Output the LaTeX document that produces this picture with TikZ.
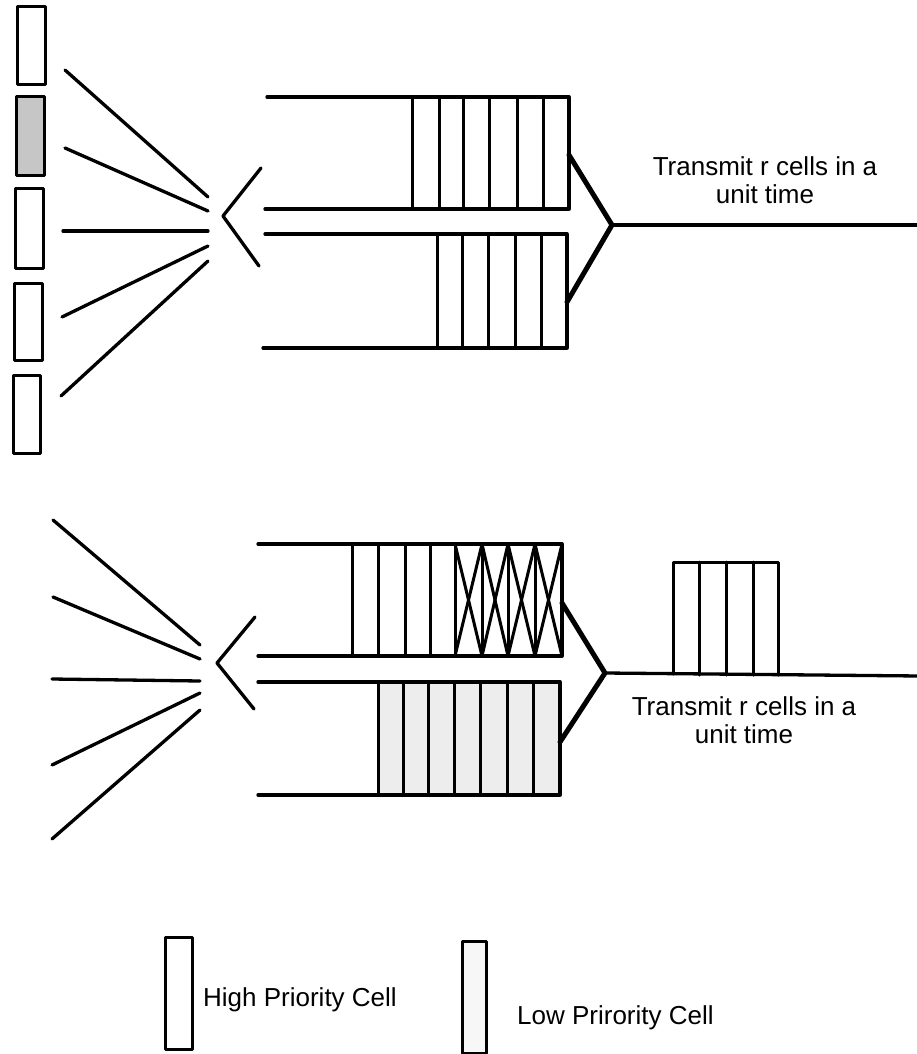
\documentclass[tikz,border=0pt]{standalone}
\usepackage{fontspec}
\setmainfont{Liberation Sans}
\begin{document}
\begin{tikzpicture}[x=1pt,y=-1pt, line cap=round, line join=round,
  ln/.style={line width=3.3pt},
  cellln/.style={line width=3pt},
  merge/.style={line width=5pt},
  lowfill/.style={fill=gray!14},
  lbl/.style={font=\fontsize{26}{27.5}\selectfont, align=center, inner sep=0pt}]
\useasboundingbox (0,0) rectangle (917,1054);
\fill[white] (0,0) rectangle (917,1054);

% ---------------- top: arriving cells ----------------
\draw[cellln] (17,7) rectangle (45,85) coordinate (c1);
\draw[cellln, fill=gray!45] (16,97) rectangle (44,175) coordinate (c2);
\draw[cellln] (15,188) rectangle (43,268) coordinate (c3);
\draw[cellln] (14,283) rectangle (42,360) coordinate (c4);
\draw[cellln] (13,375) rectangle (40,453) coordinate (c5);

% fan-in lines
\coordinate (fa1) at (65,70);  \coordinate (fb1) at (208,197);
\coordinate (fa2) at (65,148); \coordinate (fb2) at (208,211);
\coordinate (fa3) at (63,231); \coordinate (fb3) at (208,231);
\coordinate (fa4) at (62,317); \coordinate (fb4) at (208,246);
\coordinate (fa5) at (61,396); \coordinate (fb5) at (208,261);
\foreach \i in {1,...,5} \draw[ln] (fa\i) -- (fb\i);

% splitter chevron
\coordinate (ch1) at (261,168); \coordinate (chA) at (223,216); \coordinate (ch2) at (259,266);
\draw[ln] (ch1) -- (chA) -- (ch2);

% upper queue (top)
\draw[ln] (267,97) -- (569,97) -- (569,209) -- (265,209);
\foreach \x in {412,439,463,489,517,543} \draw[cellln] (\x,97) -- (\x,209);
% lower queue (top)
\draw[ln] (265,234) -- (567,234) -- (567,348) -- (263,348);
\foreach \x in {437,462,488,515,541} \draw[cellln] (\x,234) -- (\x,348);

% merge and output line
\coordinate (qa) at (569,155); \coordinate (qb) at (567,302);
\coordinate (tap) at (612,225); \coordinate (tout) at (920,225);
\draw[merge] (qa) -- (tap) -- (qb);
\draw[ln] (tap) -- (tout);

\node[lbl] (t1) at (765,180) {Transmit r cells in a\\unit time};

% ---------------- bottom ----------------
\coordinate (ga1) at (53,520); \coordinate (gb1) at (200,645);
\coordinate (ga2) at (53,597); \coordinate (gb2) at (200,659);
\coordinate (ga3) at (52,679); \coordinate (gb3) at (200,681);
\coordinate (ga4) at (52,765); \coordinate (gb4) at (200,693);
\coordinate (ga5) at (52,839); \coordinate (gb5) at (200,710);
\foreach \i in {1,...,5} \draw[ln] (ga\i) -- (gb\i);

\coordinate (dh1) at (255,617); \coordinate (dhA) at (217,663); \coordinate (dh2) at (254,709);
\draw[ln] (dh1) -- (dhA) -- (dh2);

% upper queue (bottom): 4 plain + 4 crossed cells
\draw[ln] (258,544) -- (562,544) -- (562,656) -- (258,656);
\foreach \x in {352,378,405,430,455,482,508,535} \draw[cellln] (\x,544) -- (\x,656);
\foreach \x/\y in {455/482,482/508,508/535,535/562} {
  \draw[cellln] (\x,544) -- (\y,656);
  \draw[cellln] (\y,544) -- (\x,656);
}
% lower queue (bottom): 7 low-priority cells
\fill[lowfill] (378,682) rectangle (560,795);
\draw[ln] (258,682) -- (560,682) -- (560,795) -- (258,795);
\foreach \x in {378,403,428,454,480,507,533} \draw[cellln] (\x,682) -- (\x,795);

\coordinate (qc) at (562,603); \coordinate (qd) at (560,742);
\coordinate (bap) at (605,673); \coordinate (bout) at (920,676);
\draw[merge] (qc) -- (bap) -- (qd);
\draw[ln] (bap) -- (bout);

% transmitted cells
\draw[cellln] (673,674) -- (673,562) -- (778,562) -- (778,675);
\foreach \x in {699,726,753} \draw[cellln] (\x,562) -- (\x,675);

\node[lbl] (t2) at (744,720) {Transmit r cells in a\\unit time};

% ---------------- legend ----------------
\draw[cellln] (165,937) rectangle (192,1049) coordinate (lh);
\node[lbl, anchor=west] (lht) at (203,1000) {High Priority Cell};
\draw[cellln, fill=gray!6] (462,941) rectangle (486,1053) coordinate (ll);
\node[lbl, anchor=west] (llt) at (517,1018) {Low Prirority Cell};
\end{tikzpicture}
\end{document}
